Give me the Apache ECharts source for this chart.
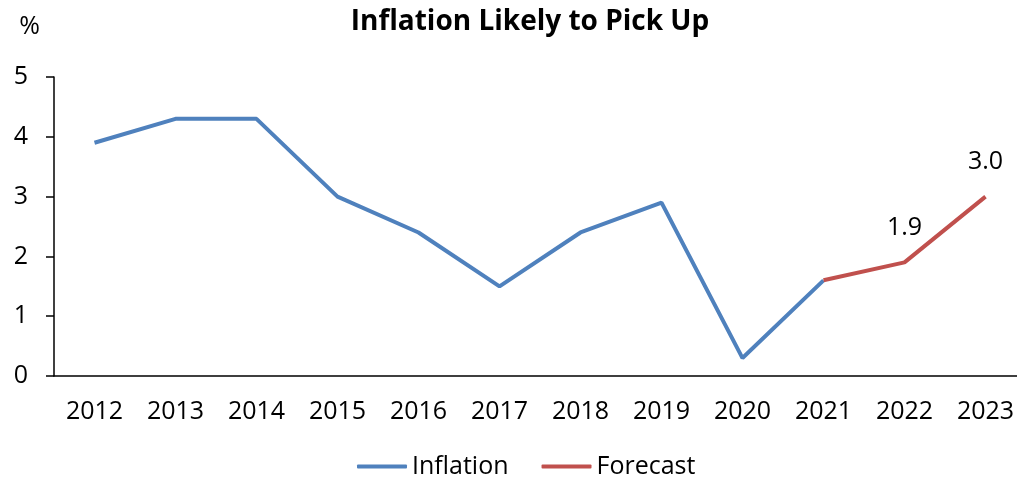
<!DOCTYPE html>
<html>
<head>
<meta charset="utf-8">
<script src="https://cdn.jsdelivr.net/npm/echarts@6/dist/echarts.min.js"></script>
<style>
  html, body { margin: 0; padding: 0; background: #fff; overflow: hidden; }
  /* a little wider than the window: the original is cropped on the right */
  #chart { width: 1026px; height: 484px; }
</style>
</head>
<body>
<div id="chart"></div>
<script>
const years = ['2012', '2013', '2014', '2015', '2016', '2017', '2018', '2019', '2020', '2021', '2022', '2023']
const inflation = [3.9, 4.3, 4.3, 3.0, 2.4, 1.5, 2.4, 2.9, 0.3, 1.6, null, null]
const forecast = [null, null, null, null, null, null, null, null, null, 1.6, 1.9, 3.0]
// only these forecast points carry a label
const labelled = [10, 11]

const font = 'Open Sans, Liberation Sans, sans-serif'

const chart = echarts.init(document.getElementById('chart'))
chart.setOption({
  animation: false,
  textStyle: { fontFamily: font },
  title: {
    text: 'Inflation Likely to Pick Up',
    left: 525,
    textAlign: 'center',
    top: 3,
    textStyle: { fontSize: 28, fontWeight: 'bold', color: '#000', fontFamily: font }
  },
  grid: { left: 54, right: 0, top: 77, bottom: 108 },
  legend: {
    bottom: 0,
    left: 352,
    itemWidth: 50,
    itemHeight: 4,
    itemGap: 33,
    textStyle: { fontSize: 25, color: '#000', fontFamily: font },
    data: [
      { name: 'Inflation', icon: 'roundRect' },
      { name: 'Forecast', icon: 'roundRect' }
    ]
  },
  xAxis: {
    type: 'category',
    data: years,
    boundaryGap: true,
    axisLine: { lineStyle: { color: '#000', width: 1.5 } },
    axisTick: { show: false },
    axisLabel: { color: '#000', fontSize: 25, margin: 23 }
  },
  yAxis: {
    type: 'value',
    min: 0,
    max: 5,
    interval: 1,
    name: '%',
    nameLocation: 'end',
    nameGap: 38,
    nameTextStyle: { color: '#000', fontSize: 25, align: 'right', padding: [0, 14, 0, 0] },
    axisLine: { show: true, lineStyle: { color: '#000', width: 1.5 } },
    axisTick: { show: true, inside: false, length: 8, lineStyle: { color: '#000', width: 1.5 } },
    axisLabel: { color: '#000', fontSize: 25, margin: 26 },
    splitLine: { show: false }
  },
  series: [
    {
      name: 'Inflation',
      type: 'line',
      data: inflation,
      symbol: 'none',
      lineStyle: { color: '#4F81BD', width: 4 },
      itemStyle: { color: '#4F81BD' }
    },
    {
      name: 'Forecast',
      type: 'line',
      data: forecast.map((v, i) => labelled.includes(i)
        ? { value: v, label: { show: true } }
        : v),
      symbol: 'circle',
      symbolSize: 0,
      showAllSymbol: true,
      lineStyle: { color: '#C0504D', width: 4 },
      itemStyle: { color: '#C0504D' },
      label: {
        show: false,
        position: 'top',
        distance: 22,
        color: '#000',
        fontSize: 25,
        formatter: p => p.value.toFixed(1)
      }
    }
  ]
})
</script>
</body>
</html>
